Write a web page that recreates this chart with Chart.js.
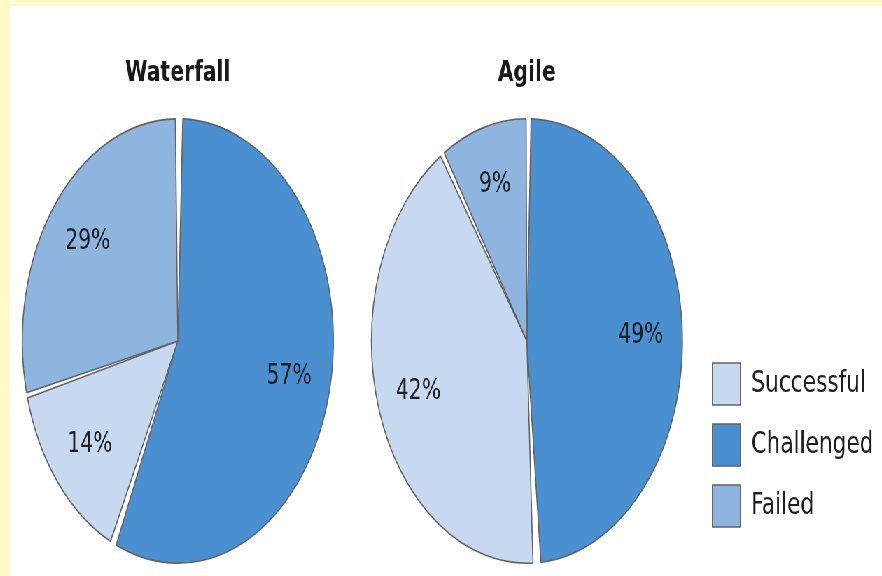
<!DOCTYPE html>
<html>
<head>
<meta charset="utf-8">
<script src="https://cdn.jsdelivr.net/npm/chart.js@4"></script>
<style>
  html, body { margin: 0; padding: 0; }
  body { width: 882px; height: 576px; background: #fffac8; position: relative; overflow: hidden; }
  #paper { position: absolute; left: 10px; top: 6px; right: 0; bottom: 0; background: #fff; }
  /* the source picture is squeezed sideways, so the whole stage is too */
  #stage { position: absolute; left: 0; top: 0; width: 1260px; height: 576px; transform: scaleX(0.7); transform-origin: 0 0; }
  #stage canvas { position: absolute; top: 0; }
  #waterfall { left: 0; }
  #agile { left: 500px; }
</style>
</head>
<body>
<div id="paper"></div>
<div id="stage">
  <canvas id="waterfall" width="479" height="576"></canvas>
  <canvas id="agile" width="758" height="576"></canvas>
</div>
<script>
const categories = ['Challenged', 'Successful', 'Failed'];
const legendOrder = ['Successful', 'Challenged', 'Failed'];
const waterfallValues = [57, 14, 29];
const agileValues = [49, 42, 9];
const sliceColors = ['#4a8fcf', '#c6d9f1', '#8eb4e0'];

const FONT = '"DejaVu Sans", sans-serif';

// percent text inside each slice
const pctLabels = {
	id: 'pctLabels',
	afterDatasetsDraw(chart) {
		const ctx = chart.ctx;
		const meta = chart.getDatasetMeta(0);
		const values = chart.data.datasets[0].data;
		ctx.save();
		ctx.font = '29px ' + FONT;
		ctx.fillStyle = '#1e1e1e';
		ctx.textAlign = 'center';
		ctx.textBaseline = 'middle';
		meta.data.forEach((arc, i) => {
			const mid = (arc.startAngle + arc.endAngle) / 2;
			const r = arc.outerRadius * 0.74;
			ctx.fillText(values[i] + '%', arc.x + Math.cos(mid) * r, arc.y + Math.sin(mid) * r);
		});
		ctx.restore();
	}
};

function pieConfig(title, values, withLegend) {
	return {
		type: 'pie',
		data: {
			labels: categories,
			datasets: [{
				data: values,
				backgroundColor: sliceColors,
				borderColor: '#626262',
				borderWidth: 1.6,
				spacing: 4
			}]
		},
		options: {
			responsive: false,
			animation: false,
			devicePixelRatio: 1,
			layout: { padding: { left: withLegend ? 6.6 : 29, right: 0, top: 0, bottom: 12 } },
			plugins: {
				tooltip: { enabled: false },
				title: {
					display: true,
					text: title,
					fullSize: false,
					color: '#1a1a1a',
					font: { family: FONT, size: 29, weight: 'bold', lineHeight: 1.2 },
					padding: { top: 55.6, bottom: 27.6 }
				},
				legend: {
					display: withLegend,
					position: 'right',
					align: 'start',
					title: {
						display: true,
						text: ' ',
						font: { size: 12, lineHeight: 1.2 },
						padding: { top: 0, bottom: 329.6 }
					},
					labels: {
						boxWidth: 40,
						boxHeight: 42,
						padding: 19,
						color: '#1e1e1e',
						font: { family: FONT, size: 31 },
						sort: (a, b) => legendOrder.indexOf(a.text) - legendOrder.indexOf(b.text)
					}
				}
			}
		},
		plugins: [pctLabels]
	};
}

new Chart(document.getElementById('waterfall'), pieConfig('Waterfall', waterfallValues, false));
new Chart(document.getElementById('agile'), pieConfig('Agile', agileValues, true));
</script>
</body>
</html>
